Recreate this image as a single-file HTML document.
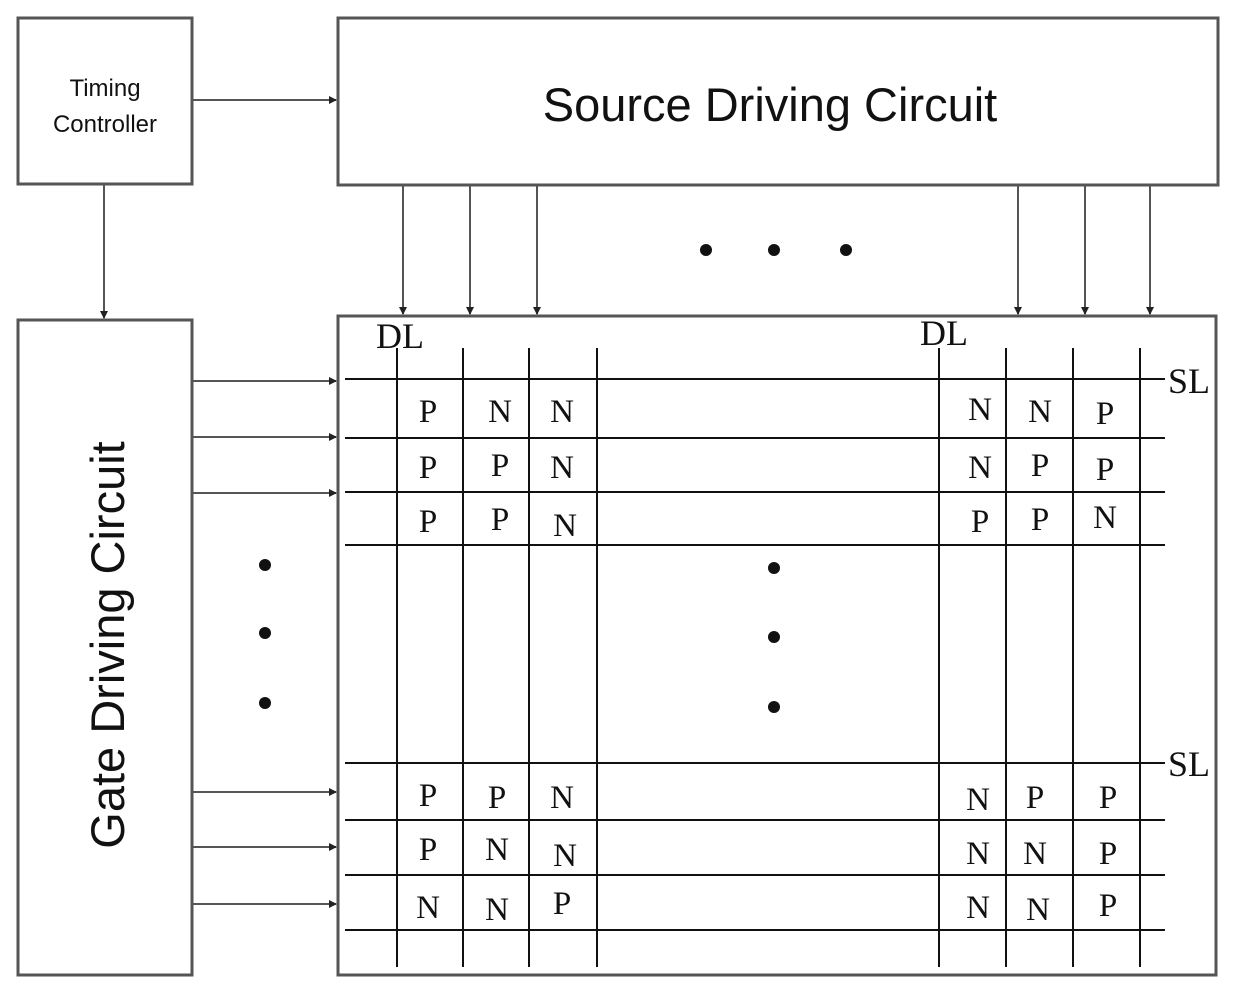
<!DOCTYPE html>
<html><head><style>body{margin:0;background:#fff}svg{display:block}</style></head><body>
<svg width="1240" height="999" viewBox="0 0 1240 999" xmlns="http://www.w3.org/2000/svg">
<defs><marker id="a" markerWidth="8" markerHeight="8" refX="7" refY="4" orient="auto" markerUnits="userSpaceOnUse"><path d="M0,0 L8,4 L0,8 z" fill="#222"/></marker></defs>
<g fill="none" stroke="#555" stroke-width="3">
<rect x="18" y="18" width="174" height="166"/>
<rect x="338" y="18" width="880" height="167"/>
<rect x="18" y="320" width="174" height="655"/>
<rect x="338" y="316" width="878" height="659"/>
</g>
<g stroke="#555" stroke-width="2" marker-end="url(#a)">
<line x1="192" y1="100" x2="336" y2="100"/>
<line x1="104" y1="184" x2="104" y2="318"/>
<line x1="403" y1="185" x2="403" y2="314"/>
<line x1="470" y1="185" x2="470" y2="314"/>
<line x1="537" y1="185" x2="537" y2="314"/>
<line x1="1018" y1="185" x2="1018" y2="314"/>
<line x1="1085" y1="185" x2="1085" y2="314"/>
<line x1="1150" y1="185" x2="1150" y2="314"/>
<line x1="192" y1="381" x2="336" y2="381"/>
<line x1="192" y1="437" x2="336" y2="437"/>
<line x1="192" y1="493" x2="336" y2="493"/>
<line x1="192" y1="792" x2="336" y2="792"/>
<line x1="192" y1="847" x2="336" y2="847"/>
<line x1="192" y1="904" x2="336" y2="904"/>
</g>
<g stroke="#111" stroke-width="2">
<line x1="397" y1="348" x2="397" y2="967"/><line x1="463" y1="348" x2="463" y2="967"/>
<line x1="529" y1="348" x2="529" y2="967"/><line x1="597" y1="348" x2="597" y2="967"/>
<line x1="939" y1="348" x2="939" y2="967"/><line x1="1006" y1="348" x2="1006" y2="967"/>
<line x1="1073" y1="348" x2="1073" y2="967"/><line x1="1140" y1="348" x2="1140" y2="967"/>
<line x1="345" y1="379" x2="1165" y2="379"/><line x1="345" y1="438" x2="1165" y2="438"/>
<line x1="345" y1="492" x2="1165" y2="492"/><line x1="345" y1="545" x2="1165" y2="545"/>
<line x1="345" y1="763" x2="1165" y2="763"/><line x1="345" y1="820" x2="1165" y2="820"/>
<line x1="345" y1="875" x2="1165" y2="875"/><line x1="345" y1="930" x2="1165" y2="930"/>
</g>
<g fill="#111">
<circle cx="706" cy="250" r="6"/><circle cx="774" cy="250" r="6"/><circle cx="846" cy="250" r="6"/>
<circle cx="265" cy="565" r="6"/><circle cx="265" cy="633" r="6"/><circle cx="265" cy="703" r="6"/>
<circle cx="774" cy="568" r="6"/><circle cx="774" cy="637" r="6"/><circle cx="774" cy="707" r="6"/>
</g>
<g font-family="Liberation Sans, sans-serif" fill="#111" text-anchor="middle">
<text x="105" y="96" font-size="24">Timing</text>
<text x="105" y="132" font-size="24">Controller</text>
<text x="770" y="121" font-size="47">Source Driving Circuit</text>
<text transform="translate(124,645) rotate(-90)" font-size="47">Gate Driving Circuit</text>
</g>
<g font-family="Liberation Serif, serif" fill="#111" font-size="33" text-anchor="middle">
<text x="400" y="348" font-size="36">DL</text><text x="944" y="345" font-size="36">DL</text>
<text x="1189" y="393" font-size="36">SL</text><text x="1189" y="776" font-size="36">SL</text>
<text x="428" y="422">P</text><text x="500" y="422">N</text><text x="562" y="422">N</text>
<text x="428" y="478">P</text><text x="500" y="476">P</text><text x="562" y="478">N</text>
<text x="428" y="532">P</text><text x="500" y="530">P</text><text x="565" y="536">N</text>
<text x="980" y="420">N</text><text x="1040" y="422">N</text><text x="1105" y="424">P</text>
<text x="980" y="478">N</text><text x="1040" y="476">P</text><text x="1105" y="480">P</text>
<text x="980" y="532">P</text><text x="1040" y="530">P</text><text x="1105" y="528">N</text>
<text x="428" y="806">P</text><text x="497" y="808">P</text><text x="562" y="808">N</text>
<text x="428" y="860">P</text><text x="497" y="860">N</text><text x="565" y="866">N</text>
<text x="428" y="918">N</text><text x="497" y="920">N</text><text x="562" y="914">P</text>
<text x="978" y="810">N</text><text x="1035" y="808">P</text><text x="1108" y="808">P</text>
<text x="978" y="864">N</text><text x="1035" y="864">N</text><text x="1108" y="864">P</text>
<text x="978" y="918">N</text><text x="1038" y="920">N</text><text x="1108" y="916">P</text>
</g>
</svg>
</body></html>
